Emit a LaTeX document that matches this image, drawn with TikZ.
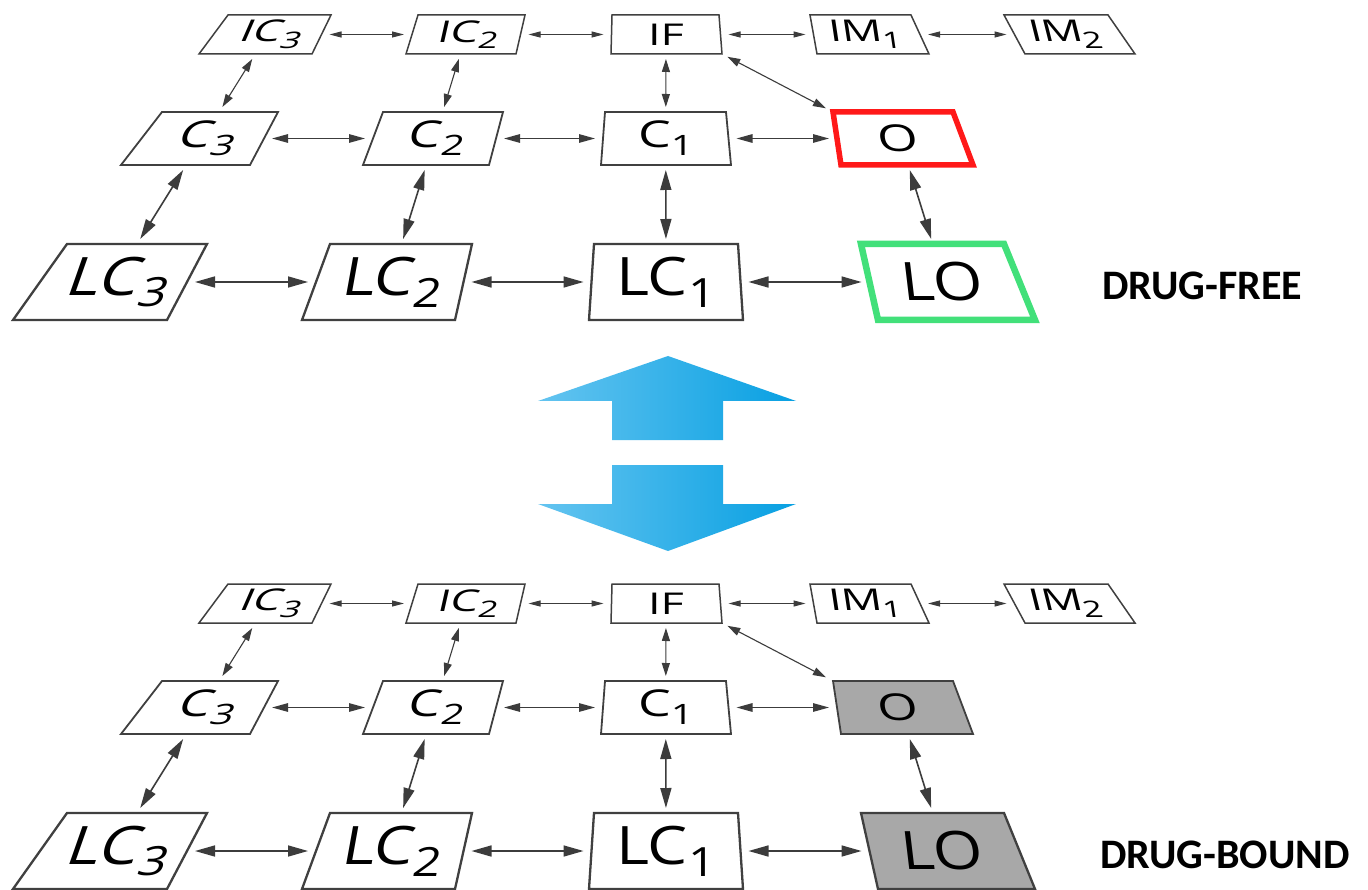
\documentclass[tikz,border=0pt]{standalone}
\usepackage{fontspec}
\usepackage{graphicx}
\usetikzlibrary{arrows.meta}
\newfontfamily\lfA[FakeSlant=0.35,FakeStretch=1.2]{Open Sans}
\newfontfamily\lfB[FakeSlant=0.18,FakeStretch=1.2]{Open Sans}
\newfontfamily\lfN[FakeStretch=1.2]{Open Sans}
\newfontfamily\lfR[FakeSlant=-0.12,FakeStretch=1.2]{Open Sans}
\newfontfamily\lfRR[FakeSlant=-0.2,FakeStretch=1.2]{Open Sans}
\newfontfamily\tagfont{Carlito}
\newcommand\sbs[1]{\raisebox{-0.22em}{\scalebox{0.76}{#1}}}
\newcommand\fS{\fontsize{30}{32}\selectfont}
\newcommand\fM{\fontsize{37}{40}\selectfont}
\newcommand\fL{\fontsize{53}{56}\selectfont}
\newcommand\tS[1]{\scalebox{1.25}[1]{#1}}
\newcommand\tM[1]{\scalebox{1.17}[1]{#1}}
\newcommand\tL[1]{#1}
\definecolor{ln}{RGB}{64,64,64}
\definecolor{ar}{RGB}{60,60,60}
\definecolor{redb}{RGB}{255,25,25}
\definecolor{greenb}{RGB}{66,224,122}
\definecolor{grayf}{RGB}{168,168,168}
\definecolor{blueL}{RGB}{100,196,240}
\definecolor{blueR}{RGB}{8,160,226}

\newcommand\mkbox[9]{%
  \coordinate (#1-tl) at ({#2},{#6+\yo});
  \coordinate (#1-tr) at ({#3},{#6+\yo});
  \coordinate (#1-bl) at ({#4},{#7+\yo});
  \coordinate (#1-br) at ({#5},{#7+\yo});
  \path[#8] (#1-tl) -- (#1-tr) -- (#1-br) -- (#1-bl) -- cycle;
  \node[lbl, minimum width={(#3+#5-#2-#4)/2+16}, minimum height={#7-#6+10}]
    (#1) at ({(#2+#3+#4+#5)/4},{(#6+#7)/2+\yo}) {#9};
}

\newcommand\half[3]{%
  \mkbox{#1IC3}{228}{331}{199}{312}{15}{54}{boxS}{\fS\tS{\lfA IC\sbs{3}}}
  \mkbox{#1IC2}{418}{525}{406}{516}{15}{54}{boxS}{\fS\tS{\lfB IC\sbs{2}}}
  \mkbox{#1IF}{612}{719}{611}{722}{15}{54}{boxS}{\fS\tS{\lfN IF}}
  \mkbox{#1IM1}{810}{911}{817}{929}{15}{54}{boxS}{\fS\tS{\lfR IM\sbs{1}}}
  \mkbox{#1IM2}{1004}{1108}{1025}{1135}{15}{54}{boxS}{\fS\tS{\lfRR IM\sbs{2}}}
  \mkbox{#1C3}{162}{278}{121}{250}{112}{165}{boxM}{\fM\tM{\lfA C\sbs{3}}}
  \mkbox{#1C2}{383}{503}{363}{489}{112}{165}{boxM}{\fM\tM{\lfB C\sbs{2}}}
  \mkbox{#1C1}{605}{726}{601}{731}{112}{165}{boxM}{\fM\tM{\lfN C\sbs{1}}}
  \mkbox{#1O}{833}{953}{841}{973}{112}{165}{#2}{\fM\tM{\lfR O}}
  \mkbox{#1LC3}{67}{207}{13}{167}{244}{320}{boxL}{\fL\tL{\lfA LC\sbs{3}}}
  \mkbox{#1LC2}{330}{472}{302}{455}{244}{320}{boxL}{\fL\tL{\lfB LC\sbs{2}}}
  \mkbox{#1LC1}{594}{738}{589}{743}{244}{320}{boxL}{\fL\tL{\lfN LC\sbs{1}}}
  \mkbox{#1LO}{861}{1004}{878}{1035}{244}{320}{#3}{\fL\tL{\lfR LO}}
  % top row
  \draw[arS] (#1IC3) -- (#1IC2);
  \draw[arS] (#1IC2) -- (#1IF);
  \draw[arS] (#1IF) -- (#1IM1);
  \draw[arS] (#1IM1) -- (#1IM2);
  % top to middle
  \draw[arV] (#1IC3) -- (#1C3);
  \draw[arV] (#1IC2) -- (#1C2);
  \draw[arV] (#1IF) -- (#1C1);
  \draw[arV, shorten <=6pt, shorten >=8pt] (#1IF-br) -- (#1O-tl);
  % middle row
  \draw[arM] (#1C3) -- (#1C2);
  \draw[arM] (#1C2) -- (#1C1);
  \draw[arM] (#1C1) -- (#1O);
  % middle to bottom
  \draw[arL] (#1C3) -- (#1LC3);
  \draw[arL] (#1C2) -- (#1LC2);
  \draw[arL] (#1C1) -- (#1LC1);
  \draw[arL] (#1O) -- (#1LO);
  % bottom row
  \draw[arL] (#1LC3) -- (#1LC2);
  \draw[arL] (#1LC2) -- (#1LC1);
  \draw[arL] (#1LC1) -- (#1LO);
}

\begin{document}
\begin{tikzpicture}[x=1pt, y=-1pt,
  lbl/.style={inner sep=0pt, outer sep=0pt, text=black},
  boxS/.style={draw=ln, line width=1.5pt},
  boxM/.style={draw=ln, line width=1.8pt},
  boxL/.style={draw=ln, line width=2.3pt},
  redbox/.style={draw=redb, line width=5.5pt},
  greenbox/.style={draw=greenb, line width=6.5pt},
  grayboxM/.style={fill=grayf, draw=ln, line width=1.8pt},
  grayboxL/.style={fill=grayf, draw=ln, line width=2.3pt},
  arS/.style={draw=ar, line width=1pt, arrows={Triangle[length=12pt,width=6pt]-Triangle[length=12pt,width=6pt]}},
  arV/.style={draw=ar, line width=1.1pt, arrows={Triangle[length=13pt,width=8pt]-Triangle[length=13pt,width=8pt]}},
  arM/.style={draw=ar, line width=1.3pt, arrows={Triangle[length=16pt,width=8.5pt]-Triangle[length=16pt,width=8.5pt]}},
  arL/.style={draw=ar, line width=1.6pt, arrows={Triangle[length=20pt,width=11pt]-Triangle[length=20pt,width=11pt]}},
  tag/.style={font=\fontsize{42}{46}\selectfont\tagfont\bfseries, inner sep=0pt, text=black}
]
\fill[white] (0,0) rectangle (1368,890);
\useasboundingbox (0,0) rectangle (1368,890);

\def\yo{0}
\half{a}{redbox}{greenbox}
\def\yo{569}
\half{b}{grayboxM}{grayboxL}

% central double arrow
\shade[left color=blueL, right color=blueR]
  (668,356) -- (796,401) -- (723,401) -- (723,440) -- (612,440) -- (612,401) -- (538,401) -- cycle;
\shade[left color=blueL, right color=blueR]
  (612,465) -- (723,465) -- (723,504) -- (796,504) -- (668,551) -- (538,504) -- (612,504) -- cycle;

\node[tag, anchor=base west] (free) at (1102,299.5) {DRUG-FREE};
\node[tag, anchor=base west] (bound) at (1100,868.5) {DRUG-BOUND};
\end{tikzpicture}
\end{document}
